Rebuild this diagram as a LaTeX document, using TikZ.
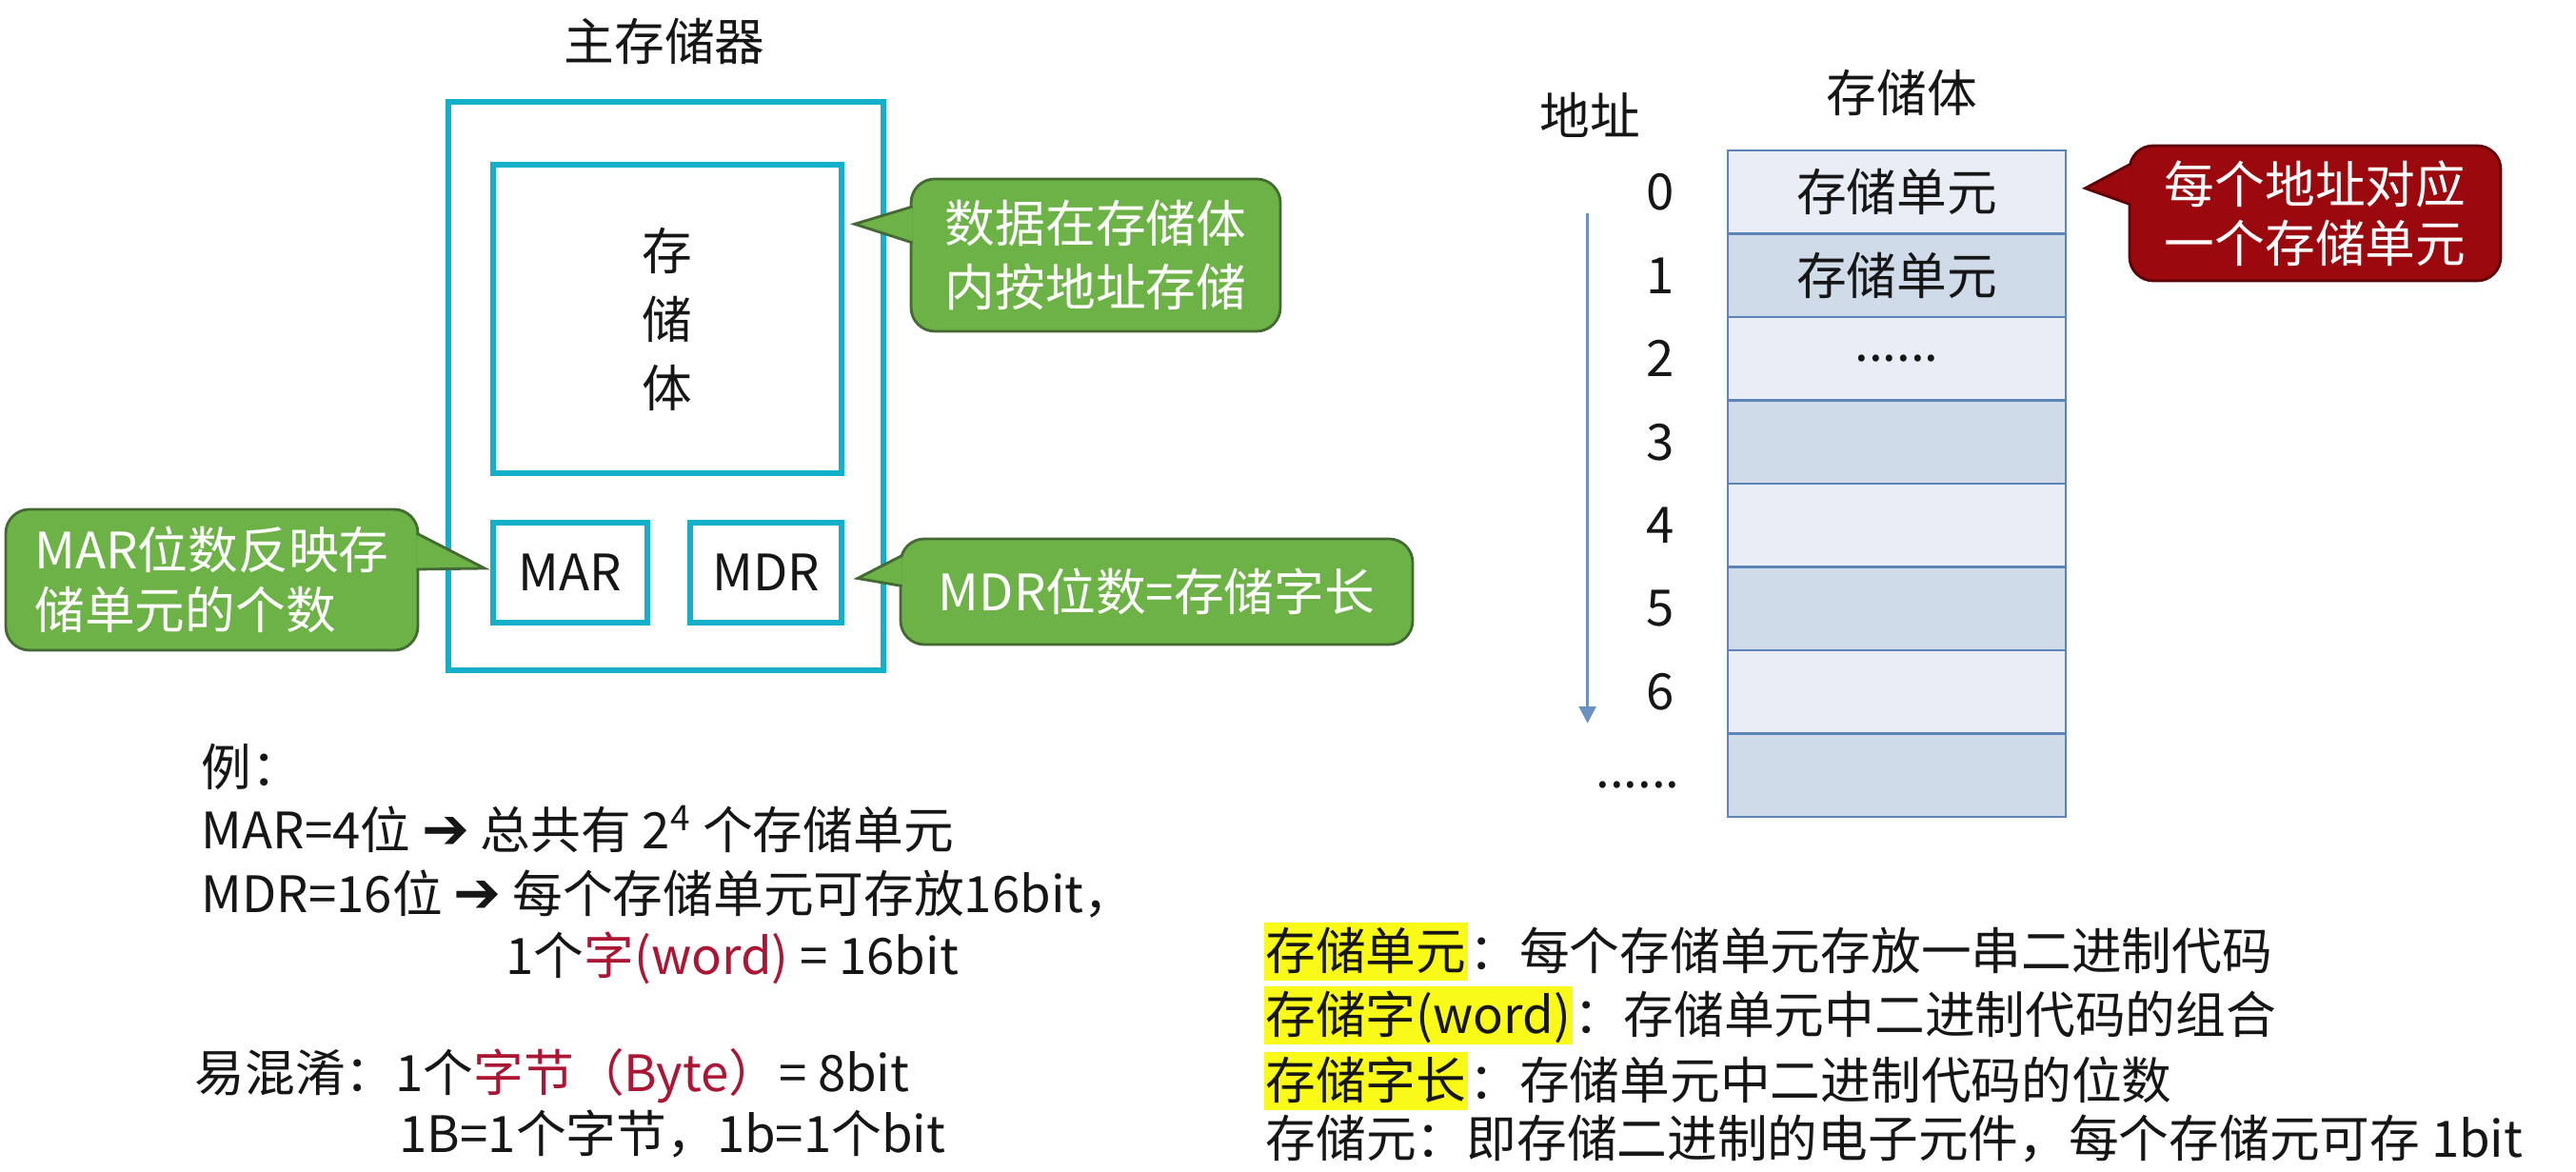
\documentclass[tikz,border=0pt]{standalone}
\usepackage{fontspec}
\setmainfont{Noto Sans CJK SC}
\newfontfamily\symfont{DejaVu Sans}
\usetikzlibrary{arrows.meta,positioning,calc}
\definecolor{memcyan}{RGB}{20,175,200}
\definecolor{callgreen}{RGB}{108,178,70}
\definecolor{greenedge}{RGB}{68,105,52}
\definecolor{callred}{RGB}{155,8,14}
\definecolor{rededge}{RGB}{95,0,5}
\definecolor{cellpale}{RGB}{233,238,246}
\definecolor{celldark}{RGB}{207,219,233}
\definecolor{celledge}{RGB}{92,132,182}
\definecolor{addrblue}{RGB}{105,145,195}
\definecolor{markyellow}{RGB}{250,250,25}
\definecolor{wordred}{RGB}{172,22,52}
\definecolor{ink}{RGB}{22,22,22}
\newcommand\celldots{......}
\newcommand\fatarrow{{\symfont\bfseries\fontsize{17}{19}\selectfont ➔}}

\begin{document}
\begin{tikzpicture}[>=Latex, every node/.style={font=\fontsize{15}{19}\selectfont, text=ink},
 membox/.style={draw=memcyan, line width=1.5pt},
 reg/.style={draw=memcyan, line width=1.6pt, minimum width=1.62cm, minimum height=1.05cm},
 gnote/.style={fill=callgreen, draw=greenedge, line width=0.8pt, rounded corners=0.25cm, text=white, align=center},
 gtip/.style={fill=callgreen, draw=greenedge, line width=0.8pt, line join=miter},
 rnote/.style={fill=callred, draw=rededge, line width=0.8pt, rounded corners=0.25cm, text=white, align=center},
 rtip/.style={fill=callred, draw=rededge, line width=0.8pt, line join=miter},
 cell/.style={draw=celledge, line width=0.8pt, minimum width=3.55cm, minimum height=0.875cm, inner sep=0pt},
 addr/.style={inner sep=0pt},
 txtline/.style={anchor=west, inner sep=0pt},
 term/.style={fill=markyellow, anchor=west, inner xsep=0.5pt, inner ysep=0.9pt, text height=13.2pt, text depth=2.4pt},
 desc/.style={anchor=base west, inner sep=0pt}]
\useasboundingbox[fill=white] (0,0) rectangle (27.06,12.30);

% main memory
\node (mmtitle) at (6.98,11.87) {主存储器};
\node[membox, minimum width=4.57cm, minimum height=5.97cm] (mainmem) at (6.995,8.245) {};
\node[membox, minimum width=3.66cm, minimum height=3.24cm, align=center, font=\fontsize{15}{20.5}\selectfont] (bank) at (7.01,8.95) {存\\储\\体};
\node[reg] (mar) at (5.99,6.285) {MAR};
\node[reg, minimum width=1.59cm] (mdr) at (8.045,6.285) {MDR};

% callouts
\node[gnote, minimum width=3.88cm, minimum height=1.60cm] (datanote) at (11.51,9.62) {数据在存储体\\内按地址存储};
\coordinate (datatip) at ($(bank.north east)+(0.11,-0.65)$);
\filldraw[gtip] ($(datanote.west)+(0.03,0.51)$) -- (datatip) -- ($(datanote.west)+(0.03,0.13)$);

\node[gnote, align=left, minimum width=4.33cm, minimum height=1.48cm, font=\fontsize{15}{18}\selectfont] (marnote) at (2.225,6.21) {MAR位数反映存\\储单元的个数};
\coordinate (martip) at ($(mar.west)+(-0.06,0.045)$);
\filldraw[gtip] ($(marnote.east)+(-0.03,0.49)$) -- (martip) -- ($(marnote.east)+(-0.03,0.11)$);

\node[gnote, minimum width=5.38cm, minimum height=1.11cm] (mdrnote) at (12.15,6.085) {MDR位数=存储字长};
\coordinate (mdrtip) at ($(mdr.east)+(0.14,-0.06)$);
\filldraw[gtip] ($(mdrnote.west)+(0.03,0.38)$) -- (mdrtip) -- ($(mdrnote.west)+(0.03,0.06)$);

% memory bank with addresses
\node (banktitle) at (19.98,11.33) {存储体};
\node (addrtitle) at (16.70,11.09) {地址};
\foreach \i/\shade/\txt in {0/cellpale/存储单元,1/celldark/存储单元,2/cellpale/\celldots,3/celldark/{},4/cellpale/{},5/celldark/{},6/cellpale/{},7/celldark/{}}
  \node[cell, fill=\shade] (r\i) at (19.925,{10.2825-0.875*\i}) {\txt};
\foreach \i in {0,1,2,3,4,5,6}
  \node[addr] (a\i) at ($(r\i.west)+(-0.69,0)$) {\i};
\node[addr] (adots) at ($(r7.west)+(-0.93,-0.1)$) {\celldots};
\coordinate (addrtop) at ($(a0)+(-0.77,-0.22)$);
\coordinate (addrbot) at ($(a6)+(-0.77,-0.33)$);
\draw[-{Triangle[length=5pt,width=5pt]}, draw=addrblue, fill=addrblue, line width=0.9pt] (addrtop) -- (addrbot);

\node[rnote, minimum width=3.9cm, minimum height=1.42cm, font=\fontsize{15}{17.5}\selectfont] (addrnote) at (24.32,10.06) {每个地址对应\\一个存储单元};
\coordinate (addrtip) at ($(r0.east)+(0.19,0.04)$);
\filldraw[rtip] ($(addrnote.west)+(0.03,0.52)$) -- (addrtip) -- ($(addrnote.west)+(0.03,0.09)$);

% example text
\node[txtline] (ex0) at (2.11,4.24) {例：};
\node[txtline] (ex1) at (2.11,3.59) {MAR=4位 \fatarrow{} 总共有 2\textsuperscript{4} 个存储单元};
\node[txtline] (ex2) at (2.11,2.91) {MDR=16位 \fatarrow{} 每个存储单元可存放16bit，};
\node[txtline] (ex3) at (5.31,2.24) {1个\textcolor{wordred}{字(word)} = 16bit};
\node[txtline] (mix1) at (2.04,1.00) {易混淆：1个\textcolor{wordred}{字节（Byte）}= 8bit};
\node[txtline] (mix2) at (4.19,0.39) {1B=1个字节，1b=1个bit};

% terms
\node[term] (t1) at (13.27,2.305) {存储单元};
\node[desc] (d1) at (t1.base east) {：每个存储单元存放一串二进制代码};
\node[term] (t2) at (13.27,1.635) {存储字(word)};
\node[desc] (d2) at (t2.base east) {：存储单元中二进制代码的组合};
\node[term] (t3) at (13.27,0.945) {存储字长};
\node[desc] (d3) at (t3.base east) {：存储单元中二进制代码的位数};
\node[txtline] (t4) at (13.29,0.34) {存储元：即存储二进制的电子元件，每个存储元可存 1bit};
\end{tikzpicture}
\end{document}
